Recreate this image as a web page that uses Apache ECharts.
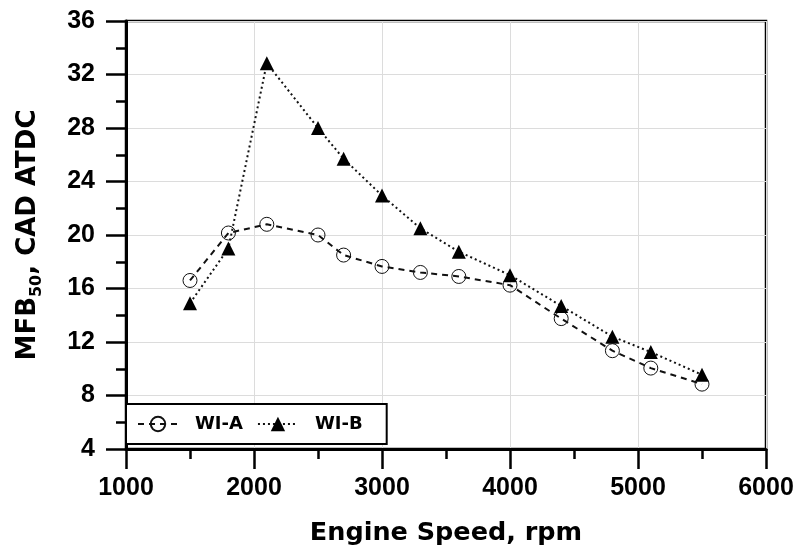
<!DOCTYPE html>
<html>
<head>
<meta charset="utf-8">
<script src="https://cdn.jsdelivr.net/npm/echarts@6/dist/echarts.min.js"></script>
<style>html,body{margin:0;padding:0;background:#fff}#c{width:798px;height:552px}</style>
</head>
<body>
<div id="c"></div>
<script>
const speedA = [1500, 1800, 2100, 2500, 2700, 3000, 3300, 3600, 4000, 4400, 4800, 5100, 5500];
const valuesA = [16.6, 20.15, 20.8, 20.0, 18.5, 17.65, 17.2, 16.9, 16.25, 13.75, 11.35, 10.05, 8.85];
const speedB = [1500, 1800, 2100, 2500, 2700, 3000, 3300, 3600, 4000, 4400, 4800, 5100, 5500];
const valuesB = [14.9, 19.0, 32.85, 28.0, 25.7, 22.95, 20.5, 18.75, 17.0, 14.7, 12.4, 11.25, 9.55];
const seriesNames = ['WI-A', 'WI-B'];
const xTitle = 'Engine Speed, rpm';

const FONT = 'DejaVu Sans';
const TICKFONT = 'Liberation Sans';
const chart = echarts.init(document.getElementById('c'));
chart.setOption({
  animation: false,
  backgroundColor: '#fff',
  grid: { left: 126, right: 32, top: 21, bottom: 103, show: true, borderColor: '#000', borderWidth: 2.5, backgroundColor: 'transparent', outerBoundsMode: 'none', containLabel: false },
  legend: {
    left: 126, top: 404,
    orient: 'horizontal',
    data: seriesNames,
    backgroundColor: '#fff',
    borderColor: '#000', borderWidth: 2, borderRadius: 0,
    padding: [11, 24, 11, 11],
    itemWidth: 40, itemHeight: 18, itemGap: 14,
    textStyle: { fontFamily: FONT, fontWeight: 'bold', fontSize: 18, color: '#000', padding: [0, 0, 0, 12] }
  },
  xAxis: {
    type: 'value', min: 1000, max: 6000, interval: 1000,
    name: xTitle, nameLocation: 'middle', nameGap: 71,
    nameTextStyle: { fontFamily: FONT, fontWeight: 'bold', fontSize: 25.5, color: '#000' },
    axisLine: { show: true, onZero: false, lineStyle: { color: '#000', width: 3 } },
    axisTick: { show: true, inside: false, length: 20, lineStyle: { color: '#000', width: 2.5 } },
    minorTick: { show: true, splitNumber: 2, length: 10, lineStyle: { color: '#000', width: 2.5 } },
    axisLabel: { margin: 27, fontFamily: TICKFONT, fontWeight: 'bold', fontSize: 25, color: '#000', formatter: v => String(v) },
    splitLine: { show: true, lineStyle: { color: '#dcdcdc', width: 1 } }
  },
  yAxis: {
    type: 'value', min: 4, max: 36, interval: 4,
    name: '{a|MFB}{s|50}{a|, CAD ATDC}', nameLocation: 'middle', nameGap: 85,
    nameTextStyle: {
      fontFamily: FONT, fontWeight: 'bold', fontSize: 26, color: '#000',
      rich: {
        a: { fontFamily: FONT, fontWeight: 'bold', fontSize: 26, color: '#000', lineHeight: 30, verticalAlign: 'bottom' },
        s: { fontFamily: FONT, fontWeight: 'bold', fontSize: 16, color: '#000', lineHeight: 30, verticalAlign: 'bottom', padding: [0, 0, -4, 0] }
      }
    },
    axisLine: { show: true, onZero: false, lineStyle: { color: '#000', width: 3 } },
    axisTick: { show: true, inside: false, length: 20, lineStyle: { color: '#000', width: 2.5 } },
    minorTick: { show: true, splitNumber: 2, length: 10, lineStyle: { color: '#000', width: 2.5 } },
    axisLabel: { margin: 31, fontFamily: TICKFONT, fontWeight: 'bold', fontSize: 25, color: '#000' },
    splitLine: { show: true, lineStyle: { color: '#dcdcdc', width: 1 } }
  },
  series: [
    {
      name: seriesNames[0], type: 'line',
      data: speedA.map((x, i) => [x, valuesA[i]]),
      symbol: 'circle', symbolSize: 14,
      lineStyle: { color: '#111', width: 2, type: [6, 5] },
      itemStyle: { color: 'rgba(255,255,255,0)', borderColor: '#111', borderWidth: 1 },
      z: 3
    },
    {
      name: seriesNames[1], type: 'line',
      data: speedB.map((x, i) => [x, valuesB[i]]),
      symbol: 'triangle', symbolSize: 14,
      lineStyle: { color: '#111', width: 2, type: [2, 3] },
      itemStyle: { color: '#000', borderColor: '#000', borderWidth: 0 },
      z: 4
    }
  ]
});
</script>
</body>
</html>
